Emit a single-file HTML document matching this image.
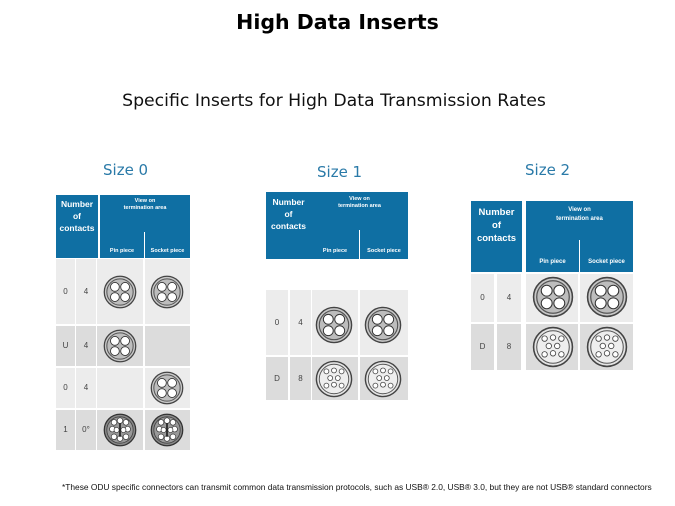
<!DOCTYPE html>
<html><head><style>
body{margin:0;width:675px;height:506px;background:#fff;position:relative;overflow:hidden;font-family:"Liberation Sans","DejaVu Sans",sans-serif}
.a{position:absolute}
.b{position:absolute;background:#0f6fa3;color:#fff;font-weight:bold;text-align:center}
.g1{position:absolute;background:#ececec}
.g2{position:absolute;background:#dcdcdc}
.t{position:absolute;font-size:8px;color:#444;text-align:center}
.sz{position:absolute;color:#2a7aa8;font-size:15px;font-family:"DejaVu Sans",sans-serif}
svg.c{position:absolute}
</style></head><body>
<svg width="0" height="0" style="position:absolute">
<defs>
<symbol id="c4" viewBox="0 0 40 40">
<circle cx="20" cy="20" r="18.5" fill="#c8c8c8" stroke="#444" stroke-width="1.5"/>
<circle cx="20" cy="20" r="15.5" fill="#bdbdbd" stroke="#555" stroke-width="1.2"/>
<circle cx="14" cy="14" r="5.2" fill="#fff" stroke="#333"/>
<circle cx="26" cy="14" r="5.2" fill="#fff" stroke="#333"/>
<circle cx="14" cy="26" r="5.2" fill="#fff" stroke="#333"/>
<circle cx="26" cy="26" r="5.2" fill="#fff" stroke="#333"/>
</symbol>
<symbol id="c8" viewBox="0 0 40 40">
<circle cx="20" cy="20" r="18.5" fill="#e4e4e4" stroke="#444" stroke-width="1.5"/>
<circle cx="20" cy="20" r="15.5" fill="#eee" stroke="#555" stroke-width="1"/>
<g fill="#fff" stroke="#444" stroke-width=".8">
<circle cx="12" cy="12" r="2.6"/><circle cx="20" cy="11" r="2.6"/><circle cx="28" cy="12" r="2.6"/>
<circle cx="16" cy="19" r="2.6"/><circle cx="24" cy="19" r="2.6"/>
<circle cx="12" cy="27" r="2.6"/><circle cx="20" cy="26" r="2.6"/><circle cx="28" cy="27" r="2.6"/>
</g>
</symbol>
<symbol id="c10" viewBox="0 0 40 40">
<circle cx="20" cy="20" r="18.5" fill="#888" stroke="#333" stroke-width="1.5"/>
<circle cx="20" cy="20" r="15.5" fill="#999" stroke="#444"/>
<g fill="#fff" stroke="#333" stroke-width=".8">
<circle cx="13" cy="11" r="3.3"/><circle cx="20" cy="9" r="3.3"/><circle cx="27" cy="11" r="3.3"/>
<circle cx="11" cy="19" r="3.3"/><circle cx="29" cy="19" r="3.3"/>
<circle cx="13" cy="28" r="3.3"/><circle cx="20" cy="30" r="3.3"/><circle cx="27" cy="28" r="3.3"/>
<circle cx="16" cy="20" r="3"/><circle cx="24" cy="20" r="3"/>
</g>
<rect x="19" y="12" width="2" height="16" fill="#222"/>
</symbol>
</defs></svg>

<div class="a" style="left:0;top:10px;width:675px;text-align:center;font-weight:bold;font-size:20.5px;font-family:'DejaVu Sans',sans-serif">High Data Inserts</div>
<div class="a" style="left:0;top:91px;width:668px;text-align:center;font-size:17.3px;color:#111;font-family:'DejaVu Sans',sans-serif">Specific Inserts for High Data Transmission Rates</div>
<div class="sz" style="left:103px;top:161px">Size 0</div>
<div class="sz" style="left:317px;top:163px">Size 1</div>
<div class="sz" style="left:525px;top:161px">Size 2</div>

<!-- Size 0 -->
<div class="b" style="left:56px;top:195px;width:42px;height:63px;font-size:8.5px;line-height:12px;padding-top:3px;box-sizing:border-box">Number<br>of<br>contacts</div>
<div class="b" style="left:100px;top:195px;width:90px;height:63px;font-size:5.5px;line-height:7px;padding-top:3px;box-sizing:border-box">View on<br>termination area</div>
<div class="a" style="left:144px;top:232px;width:1px;height:26px;background:#fff"></div>
<div class="a" style="left:100px;top:248px;width:44px;font-size:5.5px;color:#fff;font-weight:bold;text-align:center">Pin piece</div>
<div class="a" style="left:145px;top:248px;width:45px;font-size:5.5px;color:#fff;font-weight:bold;text-align:center">Socket piece</div>

<div class="g1" style="left:56px;top:259px;width:19px;height:65px"></div>
<div class="g1" style="left:76px;top:259px;width:20px;height:65px"></div>
<div class="g1" style="left:97px;top:259px;width:46px;height:65px"></div>
<div class="g1" style="left:145px;top:259px;width:45px;height:65px"></div>
<div class="g2" style="left:56px;top:326px;width:19px;height:40px"></div>
<div class="g2" style="left:76px;top:326px;width:20px;height:40px"></div>
<div class="g2" style="left:97px;top:326px;width:46px;height:40px"></div>
<div class="g2" style="left:145px;top:326px;width:45px;height:40px"></div>
<div class="g1" style="left:56px;top:368px;width:19px;height:40px"></div>
<div class="g1" style="left:76px;top:368px;width:20px;height:40px"></div>
<div class="g1" style="left:97px;top:368px;width:46px;height:40px"></div>
<div class="g1" style="left:145px;top:368px;width:45px;height:40px"></div>
<div class="g2" style="left:56px;top:410px;width:19px;height:40px"></div>
<div class="g2" style="left:76px;top:410px;width:20px;height:40px"></div>
<div class="g2" style="left:97px;top:410px;width:46px;height:40px"></div>
<div class="g2" style="left:145px;top:410px;width:45px;height:40px"></div>
<div class="t" style="left:56px;top:287px;width:19px">0</div><div class="t" style="left:76px;top:287px;width:20px">4</div>
<div class="t" style="left:56px;top:341px;width:19px">U</div><div class="t" style="left:76px;top:341px;width:20px">4</div>
<div class="t" style="left:56px;top:383px;width:19px">0</div><div class="t" style="left:76px;top:383px;width:20px">4</div>
<div class="t" style="left:56px;top:425px;width:19px">1</div><div class="t" style="left:76px;top:425px;width:20px">0°</div>
<svg class="c" style="left:103px;top:275px" width="34" height="34"><use href="#c4"/></svg>
<svg class="c" style="left:150px;top:275px" width="34" height="34"><use href="#c4"/></svg>
<svg class="c" style="left:103px;top:329px" width="34" height="34"><use href="#c4"/></svg>
<svg class="c" style="left:150px;top:371px" width="34" height="34"><use href="#c4"/></svg>
<svg class="c" style="left:103px;top:413px" width="34" height="34"><use href="#c10"/></svg>
<svg class="c" style="left:150px;top:413px" width="34" height="34"><use href="#c10"/></svg>

<!-- Size 1 -->
<div class="b" style="left:266px;top:192px;width:45px;height:67px;font-size:8.5px;line-height:12px;padding-top:4px;box-sizing:border-box">Number<br>of<br>contacts</div>
<div class="b" style="left:311px;top:192px;width:97px;height:67px;font-size:5.5px;line-height:7px;padding-top:4px;box-sizing:border-box">View on<br>termination area</div>
<div class="a" style="left:359px;top:230px;width:1px;height:29px;background:#fff"></div>
<div class="a" style="left:311px;top:248px;width:48px;font-size:5.5px;color:#fff;font-weight:bold;text-align:center">Pin piece</div>
<div class="a" style="left:360px;top:248px;width:48px;font-size:5.5px;color:#fff;font-weight:bold;text-align:center">Socket piece</div>
<div class="g1" style="left:266px;top:290px;width:22px;height:65px"></div>
<div class="g1" style="left:290px;top:290px;width:21px;height:65px"></div>
<div class="g1" style="left:312px;top:290px;width:46px;height:65px"></div>
<div class="g1" style="left:360px;top:290px;width:48px;height:65px"></div>
<div class="g2" style="left:266px;top:357px;width:22px;height:43px"></div>
<div class="g2" style="left:290px;top:357px;width:21px;height:43px"></div>
<div class="g2" style="left:312px;top:357px;width:46px;height:43px"></div>
<div class="g2" style="left:360px;top:357px;width:48px;height:43px"></div>
<div class="t" style="left:266px;top:318px;width:22px">0</div><div class="t" style="left:290px;top:318px;width:21px">4</div>
<div class="t" style="left:266px;top:374px;width:22px">D</div><div class="t" style="left:290px;top:374px;width:21px">8</div>
<svg class="c" style="left:315px;top:306px" width="38" height="38"><use href="#c4"/></svg>
<svg class="c" style="left:364px;top:306px" width="38" height="38"><use href="#c4"/></svg>
<svg class="c" style="left:315px;top:360px" width="38" height="38"><use href="#c8"/></svg>
<svg class="c" style="left:364px;top:360px" width="38" height="38"><use href="#c8"/></svg>

<!-- Size 2 -->
<div class="b" style="left:471px;top:201px;width:51px;height:71px;font-size:9.5px;line-height:13px;padding-top:5px;box-sizing:border-box">Number<br>of<br>contacts</div>
<div class="b" style="left:526px;top:201px;width:107px;height:71px;font-size:6px;line-height:9px;padding-top:5px;box-sizing:border-box">View on<br>termination area</div>
<div class="a" style="left:579px;top:240px;width:1px;height:32px;background:#fff"></div>
<div class="a" style="left:526px;top:259px;width:53px;font-size:6px;color:#fff;font-weight:bold;text-align:center">Pin piece</div>
<div class="a" style="left:580px;top:259px;width:53px;font-size:6px;color:#fff;font-weight:bold;text-align:center">Socket piece</div>
<div class="g1" style="left:471px;top:274px;width:23px;height:48px"></div>
<div class="g1" style="left:497px;top:274px;width:24px;height:48px"></div>
<div class="g1" style="left:526px;top:274px;width:52px;height:48px"></div>
<div class="g1" style="left:580px;top:274px;width:53px;height:48px"></div>
<div class="g2" style="left:471px;top:324px;width:23px;height:46px"></div>
<div class="g2" style="left:497px;top:324px;width:24px;height:46px"></div>
<div class="g2" style="left:526px;top:324px;width:52px;height:46px"></div>
<div class="g2" style="left:580px;top:324px;width:53px;height:46px"></div>
<div class="t" style="left:471px;top:293px;width:23px">0</div><div class="t" style="left:497px;top:293px;width:24px">4</div>
<div class="t" style="left:471px;top:342px;width:23px">D</div><div class="t" style="left:497px;top:342px;width:24px">8</div>
<svg class="c" style="left:532px;top:276px" width="42" height="42"><use href="#c4"/></svg>
<svg class="c" style="left:586px;top:276px" width="42" height="42"><use href="#c4"/></svg>
<svg class="c" style="left:532px;top:326px" width="42" height="42"><use href="#c8"/></svg>
<svg class="c" style="left:586px;top:326px" width="42" height="42"><use href="#c8"/></svg>

<div class="a" style="left:62px;top:482px;font-size:8.4px;color:#111;white-space:nowrap">*These ODU specific connectors can transmit common data transmission protocols, such as USB® 2.0, USB® 3.0, but they are not USB® standard connectors</div>
</body></html>
